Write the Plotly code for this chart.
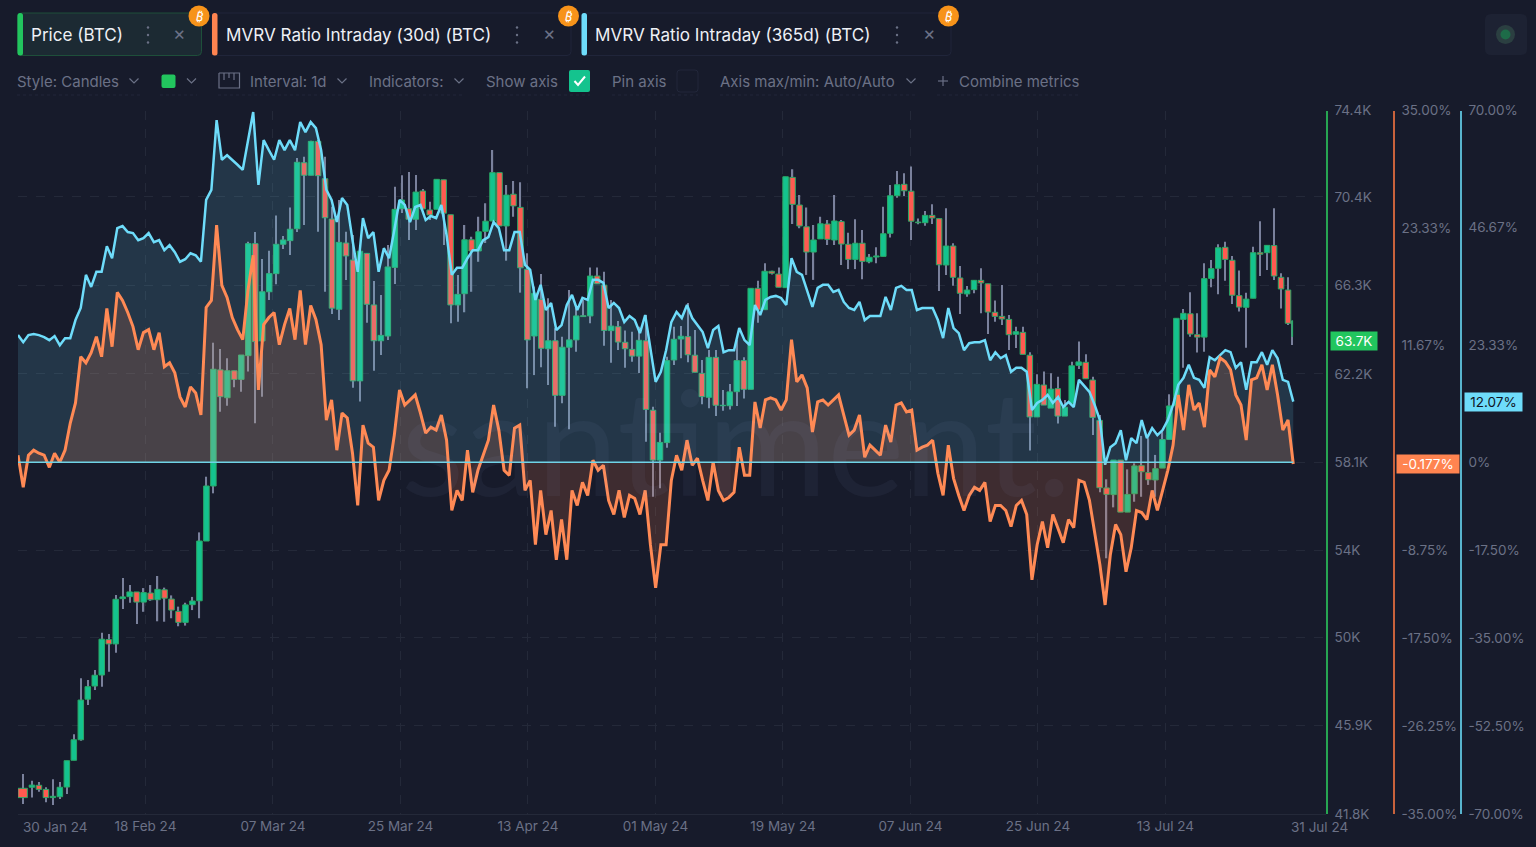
"""
Price (BTC) candles with MVRV 30d and 365d on a dark dashboard layout
"""
import numpy as np
import pandas as pd
import plotly.graph_objects as go

W, H = 1536, 847
BG = "#171b2b"
MUTED = "#6b7186"
FONT = "Inter"

# daily candles, in thousands of USD
price_open = [42.99,43.04,43.13,42.94,42.56,42.60,43.05,44.29,45.24,47.12,47.73,48.24,49.88,49.68,51.78,51.87,52.09,51.62,52.04,51.73,
    52.19,51.76,51.19,50.68,51.50,51.68,54.45,57.00,62.38,61.09,62.34,61.94,63.04,68.23,63.72,66.00,66.84,68.20,68.37,68.92,
    71.98,71.40,72.97,71.24,69.37,65.19,68.26,67.47,61.87,67.78,65.39,63.73,63.95,67.13,69.85,69.85,69.36,70.67,69.79,69.82,
    71.19,69.57,65.39,65.91,68.41,67.89,68.80,69.28,71.52,69.05,70.52,69.91,67.04,63.95,65.65,63.36,63.73,61.20,63.43,63.77,
    64.89,64.88,66.73,66.31,64.20,64.38,63.66,63.33,63.02,63.73,60.51,58.20,59.01,62.84,63.81,63.92,63.06,62.22,61.11,62.96,
    60.72,60.72,61.37,62.81,61.48,66.16,65.17,66.95,66.82,66.19,71.30,70.02,69.01,67.84,68.45,69.14,68.40,69.25,68.20,67.50,
    68.25,67.39,67.61,67.64,68.71,70.45,70.98,70.66,69.23,69.20,69.54,69.39,67.24,68.12,66.64,65.90,66.10,66.53,66.37,65.05,
    64.86,64.72,64.03,64.12,63.06,60.20,61.68,60.61,61.51,60.24,60.83,62.59,62.73,61.91,60.04,56.91,56.60,58.20,55.79,56.64,
    57.94,57.62,57.28,57.83,59.16,60.72,64.72,64.98,64.01,63.90,66.62,67.09,68.06,67.46,65.82,65.28,65.70,67.81,67.81,68.14,
    66.67,66.08,63.92]
price_high = [43.65,43.34,43.28,43.04,43.41,43.28,44.27,45.49,48.09,48.01,48.47,50.20,50.14,51.95,52.74,52.41,52.09,52.27,52.41,52.83,
    52.29,51.93,51.41,51.59,51.86,54.85,57.43,63.64,63.35,62.92,62.34,63.07,68.32,68.77,67.52,67.90,69.54,68.59,69.90,72.20,
    72.26,73.00,73.03,72.26,69.94,70.25,68.78,68.63,67.88,67.78,66.50,65.85,68.17,70.87,71.40,71.55,71.41,70.76,70.17,71.21,
    71.19,69.57,66.78,69.09,68.55,69.48,70.10,72.57,71.52,70.95,71.13,71.07,67.78,66.24,66.82,65.70,64.31,63.92,66.08,65.39,
    65.62,67.12,67.12,66.93,65.62,64.65,64.20,64.15,64.38,64.92,60.67,59.47,62.99,64.38,64.41,65.48,64.23,62.84,63.30,63.30,
    61.45,61.73,63.77,62.96,66.16,66.51,67.32,66.97,67.13,71.33,71.68,70.48,69.90,69.09,69.48,69.33,70.48,69.33,68.74,69.36,
    68.86,67.75,68.06,69.94,70.95,71.60,71.49,71.80,69.40,69.74,70.05,69.39,69.87,68.25,67.19,66.27,66.53,67.09,66.37,65.59,
    66.31,64.92,64.38,64.38,63.20,62.18,62.30,62.22,62.06,60.98,62.76,63.69,63.10,62.06,60.29,57.31,58.20,58.20,57.77,58.05,
    59.32,59.21,58.44,59.59,61.25,64.77,65.20,65.98,65.00,67.32,67.47,68.20,68.32,67.66,66.98,65.96,68.09,69.27,68.15,69.87,
    66.86,66.67,64.66]
price_low = [42.26,42.57,42.83,42.34,42.22,42.50,42.73,44.29,45.20,46.85,47.55,47.70,48.39,49.27,51.30,51.59,50.60,51.17,51.68,50.73,
    50.71,50.87,50.50,50.53,51.25,50.87,54.45,56.66,60.44,60.72,61.57,61.37,62.30,59.91,61.14,65.62,66.35,67.98,67.70,68.77,
    69.09,71.40,68.78,66.00,64.97,64.69,66.55,61.55,60.91,64.57,62.34,63.07,63.77,66.36,69.65,68.40,68.86,69.84,69.33,69.82,
    68.17,64.54,64.61,65.05,66.00,67.39,68.26,69.28,69.05,67.44,69.48,65.96,61.53,62.14,62.50,61.68,59.75,60.83,59.63,63.22,
    64.85,64.54,66.37,63.50,62.71,63.30,62.48,62.76,62.24,59.05,56.50,56.89,58.77,62.61,62.92,62.73,62.27,60.79,60.60,60.24,
    60.49,60.55,60.71,61.05,61.48,64.57,65.17,66.80,66.21,66.19,69.14,68.94,66.78,66.55,68.45,68.17,68.17,67.24,67.05,67.05,
    66.58,67.32,67.32,67.64,68.51,70.36,70.44,68.40,69.13,69.06,69.14,66.04,66.78,66.28,64.97,65.77,65.93,65.00,64.04,64.61,
    64.46,63.30,63.39,63.10,58.64,60.20,60.75,60.61,59.90,60.24,60.83,62.42,61.97,59.36,56.71,53.65,56.01,55.79,55.79,56.27,
    56.50,57.05,56.50,57.83,59.16,60.14,62.48,63.92,63.18,63.22,66.21,65.88,66.51,65.43,65.08,63.41,65.70,66.73,67.01,66.55,
    65.23,64.46,63.53]
price_close = [42.56,43.14,42.94,42.56,42.62,43.04,44.27,45.24,47.08,47.70,48.23,49.90,49.68,51.75,51.86,52.09,51.62,52.06,51.73,52.21,
    51.80,51.25,50.68,51.49,51.67,54.45,57.00,62.41,61.14,62.34,61.94,63.07,68.23,63.69,66.00,66.84,68.20,68.40,68.90,72.00,
    71.40,72.97,71.38,69.43,65.24,68.29,67.66,61.87,67.88,65.42,63.73,63.98,67.15,69.82,70.25,69.36,70.62,69.84,69.56,71.21,
    69.64,65.39,65.88,68.41,67.89,68.78,69.27,71.52,69.05,70.48,69.98,67.11,63.77,65.93,63.38,63.73,61.20,63.43,63.77,64.88,
    64.85,66.73,66.37,64.21,64.41,63.67,63.36,63.02,63.75,60.55,58.20,59.02,62.81,63.80,63.94,63.08,62.27,61.14,62.96,60.74,
    60.74,61.36,62.81,61.48,66.16,65.16,66.95,66.86,66.21,71.33,70.05,69.05,67.84,68.40,69.15,68.43,69.28,68.21,67.50,68.25,
    67.41,67.60,67.66,68.69,70.45,70.96,70.68,69.27,69.20,69.54,69.42,67.25,68.12,66.67,65.93,66.08,66.53,66.41,65.06,64.86,
    64.74,64.01,64.15,63.10,60.20,61.71,60.75,61.49,60.24,60.65,62.57,62.75,61.97,60.18,56.92,56.61,58.20,55.79,56.61,57.93,
    57.66,57.29,57.80,59.15,60.71,64.77,65.00,64.04,63.90,66.61,67.07,68.04,67.50,65.84,65.29,65.66,67.81,67.74,68.15,66.73,
    66.13,64.54,64.66]

# MVRV (30d), percent
mvrv_30d = [0.7,-2.5,0.7,1.2,0.9,0.7,-0.5,0.9,0.0,1.2,3.9,5.9,10.5,9.9,10.9,12.5,10.5,15.3,11.5,16.9,
    16.1,14.9,13.5,11.2,12.9,13.2,11.2,12.9,9.5,9.9,8.9,6.5,5.5,7.5,6.9,4.7,15.4,16.1,23.6,17.6,
    16.4,14.4,13.2,12.2,17.1,20.6,7.2,13.7,14.4,14.9,11.7,13.7,15.3,12.2,17.1,11.7,15.6,14.2,11.7,4.2,
    6.2,1.2,4.9,4.4,0.9,-4.3,3.7,1.9,1.5,-3.8,-1.8,-0.8,2.7,7.2,5.7,6.2,6.7,4.9,2.9,3.5,
    3.2,4.7,2.2,-4.8,-2.8,-3.8,1.2,-3.0,-0.8,0.7,2.2,5.7,3.2,-0.8,-1.3,3.4,3.7,-2.8,-1.8,-8.2,
    -2.8,-7.2,-4.8,-9.7,-5.7,-9.7,-2.8,-4.3,-2.0,-3.3,0.2,-0.8,-0.3,-3.8,-5.2,-2.8,-5.5,-3.3,-3.6,-5.2,
    -2.8,-8.2,-12.5,-8.2,-8.2,-1.8,0.7,-0.8,2.2,-0.3,0.4,-1.8,-3.8,0.0,-2.8,-3.8,-3.5,-3.0,1.5,-1.3,
    -1.3,6.0,3.4,6.2,6.4,6.2,5.2,6.2,12.2,8.0,8.7,7.4,3.0,6.0,6.2,5.7,6.2,6.7,4.7,2.7,
    3.2,4.7,0.5,1.7,1.2,0.7,3.7,2.0,5.7,5.9,5.0,5.2,1.2,1.5,1.7,2.2,-1.1,-3.3,1.7,-1.6,
    -3.3,-4.8,-3.3,-2.5,-2.8,-2.0,-5.9,-4.3,-4.3,-4.8,-6.4,-4.3,-3.8,-5.2,-11.7,-8.2,-5.9,-8.5,-5.2,-6.7,
    -8.0,-5.7,-6.5,-1.8,-2.0,-3.8,-7.0,-10.2,-14.2,-9.2,-6.2,-7.2,-10.9,-8.5,-4.8,-5.0,-5.7,-2.8,-4.8,-2.8,
    -0.8,1.7,6.7,3.2,7.7,5.2,5.9,3.5,9.2,8.5,10.4,10.0,9.2,6.7,5.7,2.2,8.2,8.4,9.7,7.2,
    9.7,6.7,3.2,4.2,-0.177]

# MVRV (365d), percent
mvrv_365d = [25.3,23.9,25.3,25.5,25.3,24.9,24.3,25.1,23.3,24.7,24.7,28.3,30.7,37.3,34.9,37.9,37.9,43.0,40.6,46.6,
    47.0,45.8,45.6,44.2,44.6,45.6,43.8,44.2,42.2,43.2,41.8,39.9,40.4,41.6,41.2,39.9,52.2,54.2,68.1,60.2,
    61.1,60.2,59.2,58.2,64.1,69.7,55.2,64.1,62.1,60.2,64.1,62.1,64.1,62.1,67.7,65.7,67.7,66.5,62.1,54.2,
    52.2,47.8,52.6,51.2,44.2,37.9,48.6,44.6,45.8,37.9,42.6,40.6,46.2,52.2,51.2,47.8,50.8,51.2,48.2,49.0,
    48.6,51.2,45.2,37.3,38.7,38.7,40.6,42.2,42.2,44.2,44.8,47.8,46.6,42.2,42.2,45.8,45.8,39.3,38.3,32.3,
    35.3,30.3,31.7,26.3,27.3,31.3,33.3,30.3,32.7,32.3,36.3,36.3,35.7,30.7,31.7,30.7,27.9,29.1,28.3,25.7,
    29.3,22.3,16.0,18.0,22.3,27.9,29.9,28.7,31.3,28.7,27.3,25.9,22.7,26.3,27.1,21.9,22.3,22.3,26.7,24.3,
    23.3,31.3,29.3,32.3,32.9,33.1,32.7,31.3,40.6,37.9,37.3,33.9,30.9,34.7,35.3,35.3,33.9,34.3,31.9,30.7,
    30.3,31.9,28.3,29.1,29.1,29.1,32.9,30.3,34.7,35.1,34.3,34.3,30.3,30.7,30.7,30.7,28.3,24.7,30.7,26.7,
    25.7,22.3,23.7,23.9,23.9,24.3,20.3,21.9,20.7,21.3,18.0,18.8,18.8,18.0,10.4,11.8,12.4,13.4,11.8,13.0,
    11.0,12.0,11.0,16.4,15.2,14.0,11.4,8.4,-0.5,3.0,3.8,6.4,0.4,4.8,3.8,8.4,4.8,6.8,5.4,6.4,
    8.4,11.4,15.4,16.8,19.4,16.8,16.4,14.8,20.9,20.3,21.3,22.3,21.9,18.8,19.9,14.4,19.9,19.9,21.9,19.4,
    22.3,20.7,16.4,16.0,12.07]

price_ticks = [41.8, 45.9, 50, 54, 58.1, 62.2, 66.3, 70.4, 74.4]
price_labels = ["41.8K", "45.9K", "50K", "54K", "58.1K", "62.2K", "66.3K", "70.4K", "74.4K"]
# the 0% label of this axis sits behind the -0.177% tag, so it is left out
mvrv_30d_ticks = [-35, -26.25, -17.5, -8.75, 11.67, 23.33, 35]
mvrv_30d_labels = ["-35.00%", "-26.25%", "-17.50%", "-8.75%", "11.67%", "23.33%", "35.00%"]
mvrv_365d_ticks = [-70, -52.5, -35, -17.5, 0, 23.33, 46.67, 70]
mvrv_365d_labels = ["-70.00%", "-52.50%", "-35.00%", "-17.50%", "0%", "23.33%", "46.67%", "70.00%"]
date_labels = ["", "18 Feb 24", "07 Mar 24", "25 Mar 24", "13 Apr 24", "01 May 24",
               "19 May 24", "07 Jun 24", "25 Jun 24", "13 Jul 24"]

assert len(price_open) == len(price_high) == len(price_low) == len(price_close) == 183, [
    len(price_open), len(price_high), len(price_low), len(price_close)]
assert len(mvrv_30d) == len(mvrv_365d) == 245, [len(mvrv_30d), len(mvrv_365d)]

start = pd.Timestamp("2024-01-30 18:00")
end = pd.Timestamp("2024-07-31 12:00")
DAY_MS = 86400000

candle_dates = pd.date_range("2024-01-31 18:00", periods=183, freq="D").tolist()
candle_dates[0] = pd.Timestamp("2024-01-31 10:00")
candle_dates[-1] = pd.Timestamp("2024-07-31 08:30")
body_widths = [0.79 * DAY_MS] * 183
body_widths[0] = 1.35 * DAY_MS
body_widths[-1] = 0.1 * DAY_MS

line_dates = pd.date_range(start, end, periods=245)
tick_dates = [start + pd.Timedelta(days=18.27 * k) for k in range(10)]


def px(x):
    return x / W


def py(y):
    return 1 - y / H


def rounded_rect(x0, y0, x1, y1, r=4):
    return (
        f"M{px(x0 + r)},{py(y0)} L{px(x1 - r)},{py(y0)} Q{px(x1)},{py(y0)} {px(x1)},{py(y0 + r)} "
        f"L{px(x1)},{py(y1 - r)} Q{px(x1)},{py(y1)} {px(x1 - r)},{py(y1)} "
        f"L{px(x0 + r)},{py(y1)} Q{px(x0)},{py(y1)} {px(x0)},{py(y1 - r)} "
        f"L{px(x0)},{py(y0 + r)} Q{px(x0)},{py(y0)} {px(x0 + r)},{py(y0)} Z"
    )


def polyline(points):
    return "M" + " L".join(f"{px(x)},{py(y)}" for x, y in points)


shapes = []
notes = []


def add_path(path, fill=None, line=None, width=1, dash=None):
    shapes.append(dict(type="path", xref="paper", yref="paper", path=path, fillcolor=fill,
                       line=dict(color=line or "rgba(0,0,0,0)", width=width, dash=dash), layer="above"))


def add_circle(x, y, r, fill):
    shapes.append(dict(type="circle", xref="paper", yref="paper", x0=px(x - r), x1=px(x + r),
                       y0=py(y + r), y1=py(y - r), fillcolor=fill, line=dict(width=0), layer="above"))


def add_text(x, y, text, size=15, color=MUTED, anchor="left", family=FONT, angle=0):
    notes.append(dict(xref="paper", yref="paper", x=px(x), y=py(y), text=text, showarrow=False,
                      xanchor=anchor, yanchor="middle", textangle=angle,
                      font=dict(family=family, size=size, color=color)))


def chevron(x, y=81):
    add_path(polyline([(x - 4.5, y - 2.5), (x, y + 2), (x + 4.5, y - 2.5)]), line=MUTED, width=1.2)


# metric chips
chips = [
    (17.5, 201.5, "#22c55e", "#1c2a33", "#1e4f3a", "Price (BTC)", 28.5, 148, 179),
    (212, 571, "#ff8450", BG, "#20253a", "MVRV Ratio Intraday (30d) (BTC)", 223.5, 517, 549),
    (581.5, 951, "#6edcfa", BG, "#20253a", "MVRV Ratio Intraday (365d) (BTC)", 592.5, 897, 929),
]
for x0, x1, stripe, fill, border, label, text_x, dots_x, close_x in chips:
    add_path(rounded_rect(x0, 13, x1, 55.5), fill=fill, line=border)
    add_path(rounded_rect(x0, 13, x0 + 5.5, 55.5, 2.5), fill=stripe)
    add_text(text_x, 35, label, size=17.1, color="#eef0f6")
    for dot_y in (27.5, 35, 42.5):
        add_circle(dots_x, dot_y, 1.2, MUTED)
    add_text(close_x, 34, "×", size=19, color=MUTED, anchor="center")
    add_circle(x1 - 2.5, 16, 10.5, "#f7931a")
    add_text(x1 - 2.5, 16, "₿", size=13, color="#ffffff", anchor="center", family="Noto Sans", angle=12)

# toolbar
add_text(14.5, 81, "Style: Candles")
chevron(134)
add_path(rounded_rect(161.5, 74.5, 175.5, 88, 2), fill="#22c55e")
chevron(191.5)
add_path(polyline([(219, 73), (239.5, 73), (239.5, 88), (219, 88), (219, 73)]), line=MUTED, width=1.2)
for tick_x, tick_bottom in ((224, 80), (229, 78), (234, 80)):
    add_path(polyline([(tick_x, 73), (tick_x, tick_bottom)]), line=MUTED, width=1.2)
add_text(247.5, 81, "Interval: 1d")
chevron(342)
add_text(366.5, 81, "Indicators:")
chevron(459)
add_text(483.5, 81, "Show axis")
add_path(rounded_rect(569, 70, 590, 92, 2), fill="#14c38e")
add_path(polyline([(574.5, 81), (578, 85), (585, 76.5)]), line="#ffffff", width=2)
add_text(609.5, 81, "Pin axis")
add_path(rounded_rect(677, 70, 698, 92, 3), line="#22273a")
add_text(717.5, 81, "Axis max/min: Auto/Auto")
chevron(911)
add_path(polyline([(938, 81), (948, 81)]), line=MUTED, width=1.2)
add_path(polyline([(943, 76), (943, 86)]), line=MUTED, width=1.2)
add_text(956.5, 81, "Combine metrics")
for x0, x1 in ((17, 140), (160, 197), (218, 350), (369, 465), (486, 590), (612, 698), (720, 917), (937, 1080)):
    add_path(polyline([(x0, 95), (x1, 95)]), line="#22273a", width=1, dash="dot")

# top right button
add_path(rounded_rect(1485, 14, 1527, 55, 6), fill="#1d2233")
add_circle(1505.5, 34.5, 9.5, "#2b3f41")
add_circle(1505.5, 34.5, 5, "#1d6b48")

low = np.array(price_low)
high = np.array(price_high)
open_ = np.array(price_open)
close = np.array(price_close)
body_colors = ["#14c38e" if c >= o else "#ff5a50" for o, c in zip(price_open, price_close)]

fig = go.Figure()
fig.add_trace(go.Bar(x=candle_dates, base=low, y=high - low, width=0.18 * DAY_MS,
                     marker=dict(color="#7a819c", line=dict(width=0)), yaxis="y", hoverinfo="skip"))
fig.add_trace(go.Bar(x=candle_dates, base=np.minimum(open_, close), y=np.abs(close - open_), width=body_widths,
                     marker=dict(color=body_colors, line=dict(color="#2aa866", width=1)), yaxis="y", hoverinfo="skip"))
fig.add_trace(go.Scatter(x=line_dates, y=mvrv_365d, yaxis="y2", mode="lines", fill="tozeroy",
                         fillcolor="rgba(109,214,244,0.15)", line=dict(color="#6edcfa", width=2.5), hoverinfo="skip"))
fig.add_trace(go.Scatter(x=line_dates, y=mvrv_30d, yaxis="y3", mode="lines", fill="tozeroy",
                         fillcolor="rgba(255,133,77,0.17)", line=dict(color="#ff8a55", width=3), hoverinfo="skip"))
fig.add_trace(go.Scatter(x=[start, end], y=[0, 0], yaxis="y3", mode="lines",
                         line=dict(color="#6fd3e6", width=1.3), hoverinfo="skip"))

# side tags and the two clamped date labels
tag_font = dict(family=FONT, size=13.5)
notes += [
    dict(xref="paper", yref="y", x=px(1354), y=63.7, text="63.7K", showarrow=False, bgcolor="#22c55e",
         width=44, height=16, xanchor="center", yanchor="middle", font=dict(color="#ffffff", **tag_font)),
    dict(xref="paper", yref="y3", x=px(1428), y=-0.177, text="-0.177%", showarrow=False, bgcolor="#ff8450",
         width=60, height=16, xanchor="center", yanchor="middle", font=dict(color="#ffffff", **tag_font)),
    dict(xref="paper", yref="y2", x=px(1493.5), y=12.07, text="12.07%", showarrow=False, bgcolor="#6edcfa",
         width=55, height=16, xanchor="center", yanchor="middle", font=dict(color="#10141f", **tag_font)),
    dict(xref="x", yref="paper", x=start, xshift=37, y=py(827), text="30 Jan 24", showarrow=False,
         xanchor="center", yanchor="middle", font=dict(family=FONT, size=13.5, color=MUTED)),
    dict(xref="x", yref="paper", x=end, xshift=26, y=py(827), text="31 Jul 24", showarrow=False,
         xanchor="center", yanchor="middle", font=dict(family=FONT, size=13.5, color=MUTED)),
    dict(xref="paper", yref="paper", x=px(736), y=py(440), text="santiment.", showarrow=False,
         xanchor="center", yanchor="middle", font=dict(family="Lato", size=146, color="rgba(170,195,255,0.05)")),
]


def value_axis(ticks, labels, position, color, **extra):
    return dict(
        range=extra.pop("value_range", [ticks[0], ticks[-1]]), tickvals=ticks, ticktext=labels, anchor="free",
        position=position, side="right", showline=True, linecolor=color, linewidth=1.5, ticks="",
        ticklabelstandoff=4, tickfont=dict(family=FONT, size=13.5, color=MUTED), zeroline=False,
        domain=[py(814), py(110.5)], **extra,
    )


fig.update_layout(
    width=W,
    height=H,
    margin=dict(l=0, r=0, t=0, b=0, autoexpand=False),
    paper_bgcolor=BG,
    plot_bgcolor=BG,
    showlegend=False,
    barmode="overlay",
    hovermode=False,
    shapes=shapes,
    annotations=notes,
    xaxis=dict(
        type="date", domain=[px(18), px(1326)], range=[start, start + pd.Timedelta(days=187.44)],
        tickvals=tick_dates, ticktext=date_labels, ticks="", anchor="y",
        showgrid=True, gridcolor="#242939", griddash="dash", gridwidth=1,
        showline=True, linecolor="#242939", zeroline=False,
        tickfont=dict(family=FONT, size=13.5, color=MUTED), ticklabelstandoff=0,
    ),
    yaxis=value_axis(price_ticks, price_labels, px(1327), "#27a552",
                     showgrid=True, gridcolor="#242939", griddash="dash"),
    yaxis2=value_axis(mvrv_365d_ticks, mvrv_365d_labels, px(1461), "#58b4cd", overlaying="y", showgrid=False),
    yaxis3=value_axis(mvrv_30d_ticks, mvrv_30d_labels, px(1394), "#c8623c", overlaying="y", showgrid=False),
)

fig.write_html(
    "out.html",
    config={"displayModeBar": False},
    post_script="document.body.style.margin='0';document.body.style.background='%s';" % BG,
)
